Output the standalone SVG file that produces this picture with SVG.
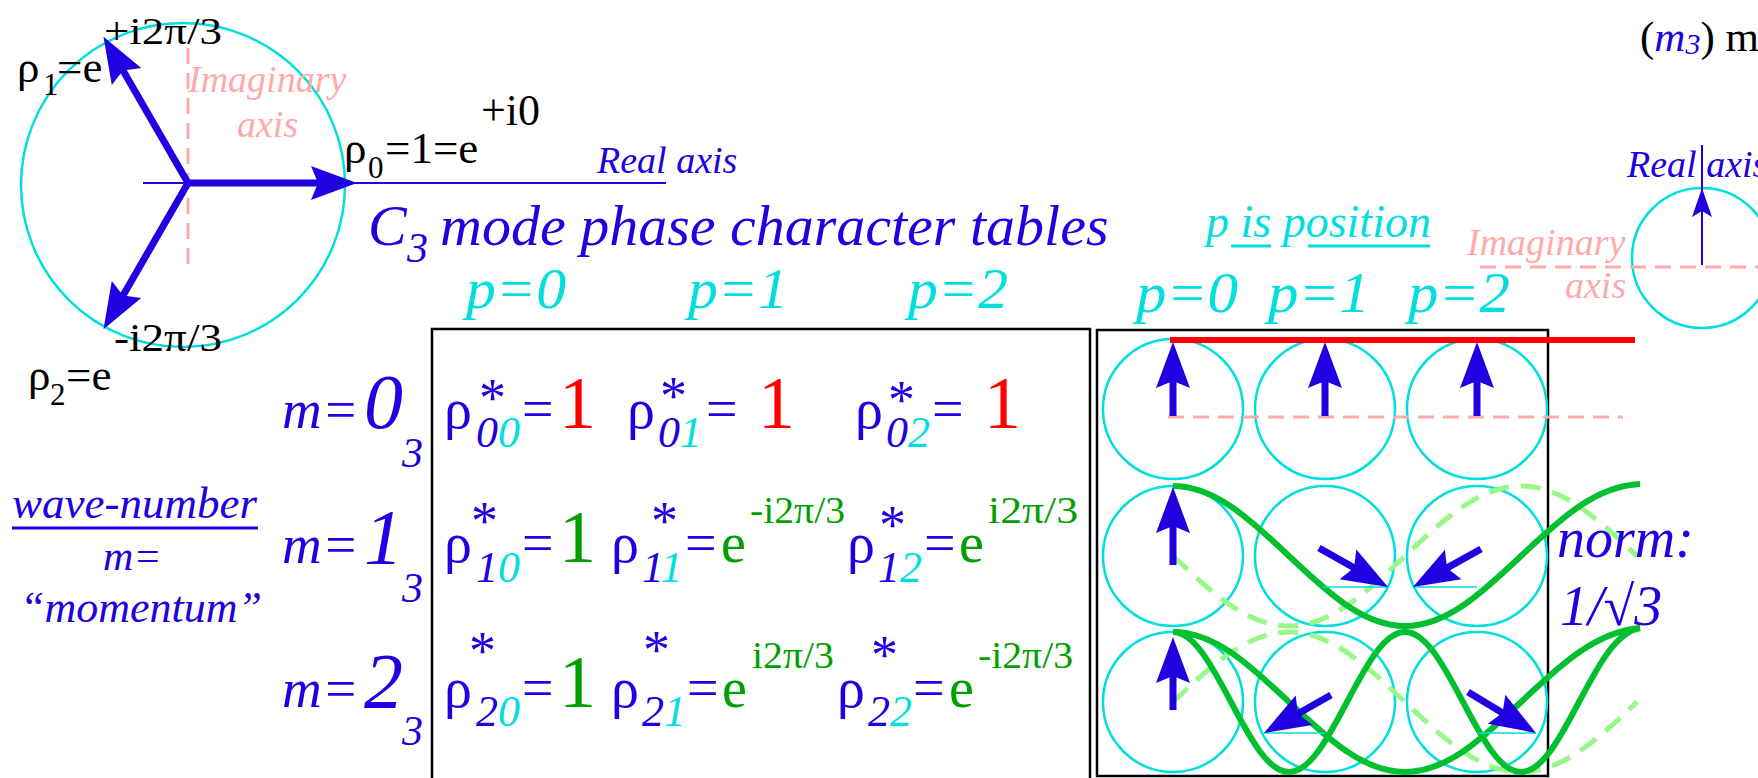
<svg xmlns="http://www.w3.org/2000/svg" width="1758" height="778" viewBox="0 0 1758 778">
<style>
.t{font-family:"Liberation Serif","Times New Roman",serif}
.i{font-style:italic}
.b{fill:#2000e0}.c{fill:#00dede}.g{fill:#00a000}.r{fill:#ff0000}.k{fill:#000}.pk{fill:#ffaaaa}
.cir{fill:none;stroke:#00dede;stroke-width:2.5}
.pdash{fill:none;stroke:#ffaaaa;stroke-width:3;stroke-dasharray:16 9}
.shaft{stroke:#2000e0;stroke-width:7;fill:none;marker-end:url(#ah)}
.thinb{stroke:#2000e0;stroke-width:2;fill:none}
.proj{stroke:#00dede;stroke-width:1.5}
.wave{fill:none;stroke:#00c030;stroke-width:6}
.wdash{fill:none;stroke:#98f888;stroke-width:5;stroke-dasharray:20 12}
.box{fill:none;stroke:#000;stroke-width:2.5}
.rho{font-size:56px}
.sub{font-size:44px;font-style:italic}
.ast{font-size:54px}
.one{font-size:74px}
.sup{font-size:37px}
</style>
<defs>
<marker id="ah" markerUnits="userSpaceOnUse" orient="auto" refX="0" refY="0" markerWidth="50" markerHeight="40" viewBox="-10 -20 50 40" overflow="visible">
<path d="M37,0 L-9,-17 L-2,0 L-9,17 Z" fill="#2000e0"/>
</marker>
<marker id="ahs" markerUnits="userSpaceOnUse" orient="auto" refX="0" refY="0" markerWidth="40" markerHeight="24" viewBox="-10 -12 40 24" overflow="visible">
<path d="M22,0 L-7,-10 L-1,0 L-7,10 Z" fill="#2000e0"/>
</marker>
</defs>

<g id="phasor-diagram">
<circle class="cir" cx="183" cy="185" r="162"/>
<line class="pdash" x1="188" y1="48" x2="188" y2="273"/>
<line class="thinb" x1="143" y1="183" x2="666" y2="183"/>
<line class="shaft" x1="188" y1="183" x2="320" y2="183"/>
<line class="shaft" x1="188" y1="183" x2="122" y2="68.7"/>
<line class="shaft" x1="188" y1="183" x2="122" y2="297.3"/>
<text class="t k" x="104" y="44" font-size="38" textLength="118" lengthAdjust="spacingAndGlyphs">+i2π/3</text>
<text class="t k" font-size="45"><tspan x="17" y="82">ρ</tspan><tspan x="43" y="95" font-size="31">1</tspan><tspan x="57" y="82">=e</tspan></text>
<text class="t i pk" x="188" y="92" font-size="38">Imaginary</text>
<text class="t i pk" x="237" y="137" font-size="38">axis</text>
<text class="t k" font-size="45"><tspan x="344" y="163">ρ</tspan><tspan x="368" y="178" font-size="31">0</tspan><tspan x="385" y="163">=1=e</tspan></text>
<text class="t k" x="481" y="125" font-size="44">+i0</text>
<text class="t i b" x="597" y="173" font-size="38">Real axis</text>
<text class="t k" x="114" y="351" font-size="40" textLength="108" lengthAdjust="spacingAndGlyphs">-i2π/3</text>
<text class="t k" font-size="45"><tspan x="28" y="390">ρ</tspan><tspan x="50" y="405" font-size="31">2</tspan><tspan x="66" y="390">=e</tspan></text>
</g>

<g id="title">
<text class="t i b" x="368" y="245" font-size="58">C<tspan x="407" y="262" font-size="42">3</tspan><tspan x="440" y="245">mode phase character tables</tspan></text>
</g>

<g id="p-labels-table1">
<text class="t i c" x="466" y="308" font-size="56" textLength="100" lengthAdjust="spacingAndGlyphs">p=0</text>
<text class="t i c" x="688" y="308" font-size="56" textLength="100" lengthAdjust="spacingAndGlyphs">p=1</text>
<text class="t i c" x="908" y="308" font-size="56" textLength="100" lengthAdjust="spacingAndGlyphs">p=2</text>
</g>

<g id="wave-number-label">
<text class="t i b" x="12" y="518" font-size="45">wave-number</text>
<line x1="12" y1="528" x2="258" y2="528" stroke="#2000e0" stroke-width="3"/>
<text class="t i b" x="103" y="570" font-size="42">m=</text>
<text class="t i b" x="20" y="622" font-size="44">“momentum”</text>
</g>

<g id="m-labels">
<text class="t i b" x="282" y="428" font-size="55">m=<tspan x="364" font-size="78">0</tspan><tspan x="402" y="467" font-size="42">3</tspan></text>
<text class="t i b" x="282" y="563" font-size="55">m=<tspan x="364" font-size="78">1</tspan><tspan x="402" y="602" font-size="42">3</tspan></text>
<text class="t i b" x="282" y="707" font-size="55">m=<tspan x="364" font-size="78">2</tspan><tspan x="402" y="745" font-size="42">3</tspan></text>
</g>

<g id="table1">
<rect class="box" x="432" y="329" width="658" height="480"/>
<text id="cell-00" class="t b"><tspan class="rho" x="444" y="428">ρ</tspan><tspan class="sub" x="476" y="447">0</tspan><tspan class="sub c">0</tspan><tspan class="ast" x="479" y="416">*</tspan><tspan class="rho" x="522" y="428">=</tspan><tspan class="one r" x="559" y="428">1</tspan></text>
<text id="cell-01" class="t b"><tspan class="rho" x="627" y="428">ρ</tspan><tspan class="sub" x="658" y="447">0</tspan><tspan class="sub c">1</tspan><tspan class="ast" x="660" y="414">*</tspan><tspan class="rho" x="706" y="428">=</tspan><tspan class="one r" x="758" y="428">1</tspan></text>
<text id="cell-02" class="t b"><tspan class="rho" x="855" y="428">ρ</tspan><tspan class="sub" x="886" y="447">0</tspan><tspan class="sub c">2</tspan><tspan class="ast" x="888" y="418">*</tspan><tspan class="rho" x="932" y="428">=</tspan><tspan class="one r" x="984" y="428">1</tspan></text>
<text id="cell-10" class="t b"><tspan class="rho" x="444" y="562">ρ</tspan><tspan class="sub" x="476" y="582">1</tspan><tspan class="sub c">0</tspan><tspan class="ast" x="471" y="539">*</tspan><tspan class="rho" x="522" y="562">=</tspan><tspan class="one g" x="559" y="562">1</tspan></text>
<text id="cell-11" class="t b"><tspan class="rho" x="611" y="562">ρ</tspan><tspan class="sub" x="642" y="582">1</tspan><tspan class="sub c">1</tspan><tspan class="ast" x="651" y="539">*</tspan><tspan class="rho" x="685" y="562">=</tspan><tspan class="rho g" x="721" y="562">e</tspan><tspan class="sup g" x="750" y="523" textLength="95" lengthAdjust="spacingAndGlyphs">-i2π/3</tspan></text>
<text id="cell-12" class="t b"><tspan class="rho" x="847" y="562">ρ</tspan><tspan class="sub" x="878" y="582">1</tspan><tspan class="sub c">2</tspan><tspan class="ast" x="879" y="543">*</tspan><tspan class="rho" x="924" y="562">=</tspan><tspan class="rho g" x="959" y="562">e</tspan><tspan class="sup g" x="988" y="523" textLength="90" lengthAdjust="spacingAndGlyphs">i2π/3</tspan></text>
<text id="cell-20" class="t b"><tspan class="rho" x="444" y="707">ρ</tspan><tspan class="sub" x="476" y="726">2</tspan><tspan class="sub c">0</tspan><tspan class="ast" x="469" y="669">*</tspan><tspan class="rho" x="522" y="707">=</tspan><tspan class="one g" x="559" y="707">1</tspan></text>
<text id="cell-21" class="t b"><tspan class="rho" x="611" y="707">ρ</tspan><tspan class="sub" x="642" y="726">2</tspan><tspan class="sub c">1</tspan><tspan class="ast" x="643" y="668">*</tspan><tspan class="rho" x="687" y="707">=</tspan><tspan class="rho g" x="722" y="707">e</tspan><tspan class="sup g" x="752" y="668" textLength="82" lengthAdjust="spacingAndGlyphs">i2π/3</tspan></text>
<text id="cell-22" class="t b"><tspan class="rho" x="837" y="707">ρ</tspan><tspan class="sub" x="868" y="726">2</tspan><tspan class="sub c">2</tspan><tspan class="ast" x="871" y="673">*</tspan><tspan class="rho" x="913" y="707">=</tspan><tspan class="rho g" x="949" y="707">e</tspan><tspan class="sup g" x="978" y="668" textLength="95" lengthAdjust="spacingAndGlyphs">-i2π/3</tspan></text>
</g>

<g id="p-labels-table2">
<text class="t i c" x="1206" y="237" font-size="46">p is position</text>
<line x1="1231" y1="246" x2="1271" y2="246" stroke="#00dede" stroke-width="3"/>
<line x1="1308" y1="246" x2="1430" y2="246" stroke="#00dede" stroke-width="3"/>
<text class="t i c" x="1136" y="312" font-size="56" textLength="102" lengthAdjust="spacingAndGlyphs">p=0</text>
<text class="t i c" x="1268" y="312" font-size="56" textLength="102" lengthAdjust="spacingAndGlyphs">p=1</text>
<text class="t i c" x="1408" y="312" font-size="56" textLength="102" lengthAdjust="spacingAndGlyphs">p=2</text>
</g>

<g id="table2">
<rect class="box" x="1097" y="330" width="451" height="446"/>
<circle class="cir" cx="1173" cy="409" r="70"/>
<circle class="cir" cx="1325" cy="409" r="70"/>
<circle class="cir" cx="1477" cy="409" r="70"/>
<circle class="cir" cx="1173" cy="556" r="70"/>
<circle class="cir" cx="1325" cy="556" r="70"/>
<circle class="cir" cx="1477" cy="556" r="70"/>
<circle class="cir" cx="1173" cy="702" r="70"/>
<circle class="cir" cx="1325" cy="702" r="70"/>
<circle class="cir" cx="1477" cy="702" r="70"/>
</g>

<g id="connectors">
<line x1="1170" y1="340" x2="1635" y2="340" stroke="#ff0000" stroke-width="6"/>
<line class="pdash" x1="1168" y1="417" x2="1623" y2="417"/>
<path class="wdash" d="M1173,556 C1213.8,594.7 1248.2,626 1289,626 C1329.8,626 1364.2,594.7 1405,556 C1445.8,517.3 1480.2,486 1521,486 C1561.8,486 1596.2,517.3 1637,556"/>
<path class="wdash" d="M1173,702 C1213.8,663.3 1248.2,632 1289,632 C1329.8,632 1364.2,663.3 1405,702 C1445.8,740.7 1480.2,772 1521,772 C1561.8,772 1596.2,740.7 1637,702"/>
<path class="wave" d="M1173,486 C1213.8,486 1248.2,517.3 1289,556 C1329.8,594.7 1364.2,626 1405,626 C1445.8,626 1480.2,594.7 1521,556 C1561.8,517.3 1596.2,486 1640,484"/>
<path class="wave" d="M1173,632 C1213.8,632 1248.2,663.3 1289,702 C1329.8,740.7 1364.2,772 1405,772 C1445.8,772 1480.2,740.7 1521,702 C1561.8,663.3 1596.2,632 1640,628"/>
<path class="wave" d="M1173,632 C1193.4,632 1210.6,663.3 1231,702 C1251.4,740.7 1268.6,772 1289,772 C1309.4,772 1326.6,740.7 1347,702 C1367.4,663.3 1384.6,632 1405,632 C1425.4,632 1442.6,663.3 1463,702 C1483.4,740.7 1500.6,772 1521,772 C1541.4,772 1558.6,740.7 1579,702 C1599.4,663.3 1616.6,632 1640,628"/>
<line class="proj" x1="1323" y1="587" x2="1388" y2="587"/>
<line class="proj" x1="1413" y1="587" x2="1477" y2="587"/>
<line class="proj" x1="1264" y1="733" x2="1325" y2="733"/>
<line class="proj" x1="1477" y1="733" x2="1536" y2="733"/>
<line class="shaft" x1="1173" y1="416" x2="1173" y2="379"/>
<line class="shaft" x1="1325" y1="416" x2="1325" y2="379"/>
<line class="shaft" x1="1477" y1="416" x2="1477" y2="379"/>
<line class="shaft" x1="1173" y1="565" x2="1173" y2="524"/>
<line class="shaft" x1="1319" y1="548" x2="1355.8" y2="568.8"/>
<line class="shaft" x1="1481" y1="549" x2="1445.3" y2="568.9"/>
<line class="shaft" x1="1173" y1="710" x2="1173" y2="674"/>
<line class="shaft" x1="1331" y1="695" x2="1296.2" y2="714.7"/>
<line class="shaft" x1="1468" y1="692" x2="1504.3" y2="713.9"/>
</g>

<g id="axis-legend">
<text class="t k" x="1640" y="51" font-size="43">(<tspan class="i b">m</tspan><tspan class="i b" font-size="30" dy="3">3</tspan><tspan dy="-3">) m</tspan></text>
<circle class="cir" cx="1702" cy="258" r="70"/>
<line class="pdash" x1="1480" y1="267" x2="1758" y2="267"/>
<line class="thinb" x1="1702" y1="145" x2="1702" y2="190"/>
<line stroke="#2000e0" stroke-width="2" x1="1702" y1="265" x2="1702" y2="210" marker-end="url(#ahs)"/>
<text class="t i b" x="1627" y="177" font-size="38">Real axis</text>
<text class="t i pk" x="1467" y="255" font-size="38">Imaginary</text>
<text class="t i pk" x="1565" y="298" font-size="38">axis</text>
</g>

<g id="norm">
<text class="t i b" x="1557" y="557" font-size="56">norm:<tspan x="1560" y="625">1/√3</tspan></text>
</g>
</svg>
